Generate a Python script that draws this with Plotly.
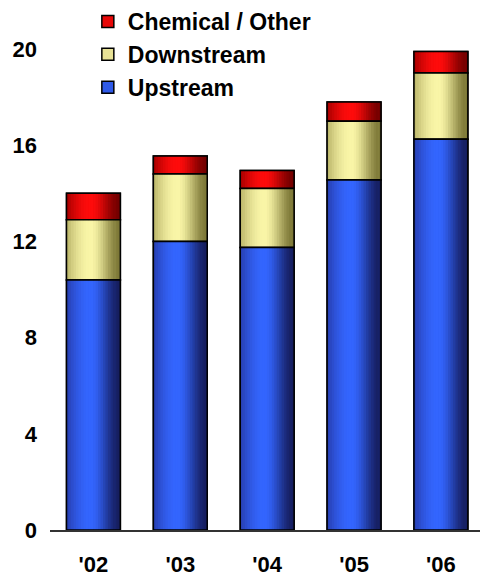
import numpy as np
import plotly.graph_objects as go

# Yearly segment totals
years = ["'02", "'03", "'04", "'05", "'06"]
upstream = [10.4, 12.0, 11.75, 14.55, 16.25]
downstream = [2.5, 2.8, 2.45, 2.45, 2.75]
chemical = [1.1, 0.75, 0.75, 0.8, 0.9]
y_ticks = [0, 4, 8, 12, 16, 20]

series = [
    # name, values, (left edge, highlight, right edge), flat legend colour
    ("Upstream", upstream, ((40, 62, 175), (52, 102, 255), (22, 30, 95)), "#2f5ae8"),
    ("Downstream", downstream, ((185, 180, 105), (250, 246, 168), (125, 120, 55)), "#e8e296"),
    ("Chemical / Other", chemical, ((165, 0, 0), (255, 12, 12), (115, 0, 0)), "#e80808"),
]

BAR_W = 0.62
N_SLICES = 22
PEAK = 0.45


def shade(t, left, peak, right):
    """Cylinder-style shading across a bar: t runs 0..1 from left to right."""
    left, peak, right = map(np.array, (left, peak, right))
    if t <= PEAK:
        s = t / PEAK
        s = np.sin(s * np.pi / 2)
        c = left + (peak - left) * s
    else:
        s = (t - PEAK) / (1 - PEAK)
        s = s * s * (3 - 2 * s)
        c = peak + (right - peak) * s
    c = np.clip(c, 0, 255).astype(int)
    return f"rgb({c[0]},{c[1]},{c[2]})"


# stacked bases for each segment
bases = []
running = np.zeros(len(years))
for _, vals, _, _ in series:
    bases.append(running.copy())
    running = running + np.array(vals, dtype=float)

fig = go.Figure()
# add top segment first so the legend lists it first
for (name, vals, (cl, cp, cr), flat), base in reversed(list(zip(series, bases))):
    vals = np.array(vals, dtype=float)
    # solid bar underneath, also carries the legend entry
    fig.add_trace(go.Bar(
        x=years, y=vals, base=base, name=name, width=BAR_W,
        marker=dict(color=flat, line=dict(color="black", width=1.5)),
        legendgroup=name, showlegend=True, hoverinfo="skip",
    ))
    # shaded vertical slices across each segment
    sw = BAR_W / N_SLICES
    for i in range(N_SLICES):
        t = (i + 0.5) / N_SLICES
        fig.add_trace(go.Bar(
            x=years, y=vals, base=base, width=sw * 1.2,
            offset=-BAR_W / 2 + i * sw - sw * 0.1,
            marker=dict(color=shade(t, cl, cp, cr), line=dict(width=0)),
            legendgroup=name, showlegend=False, hoverinfo="skip",
        ))
    # black outline on top
    fig.add_trace(go.Bar(
        x=years, y=vals, base=base, width=BAR_W,
        marker=dict(color="rgba(0,0,0,0)", line=dict(color="black", width=1.5)),
        legendgroup=name, showlegend=False, hoverinfo="skip",
    ))

fig.update_layout(
    width=480, height=581,
    margin=dict(l=50, r=0, t=12, b=51),
    barmode="overlay",
    plot_bgcolor="white", paper_bgcolor="white",
    font=dict(family="Liberation Sans, Arial, sans-serif", size=22, color="black", weight="bold"),
    showlegend=True,
    legend=dict(
        x=0.088, y=1.026, xanchor="left", yanchor="top",
        traceorder="grouped", tracegroupgap=0,
        bgcolor="rgba(0,0,0,0)",
        font=dict(size=23, weight="bold"),
    ),
    xaxis=dict(
        type="category", range=[-0.5, 4.45],
        showline=True, linecolor="#333", linewidth=2,
        ticks="", showgrid=False, zeroline=False,
        ticklabelstandoff=14,
    ),
    yaxis=dict(
        range=[0, 21.5], tickvals=y_ticks,
        showline=False, showgrid=False, zeroline=False,
        ticks="", ticklabelstandoff=12,
    ),
)

fig.write_html("out.html")
